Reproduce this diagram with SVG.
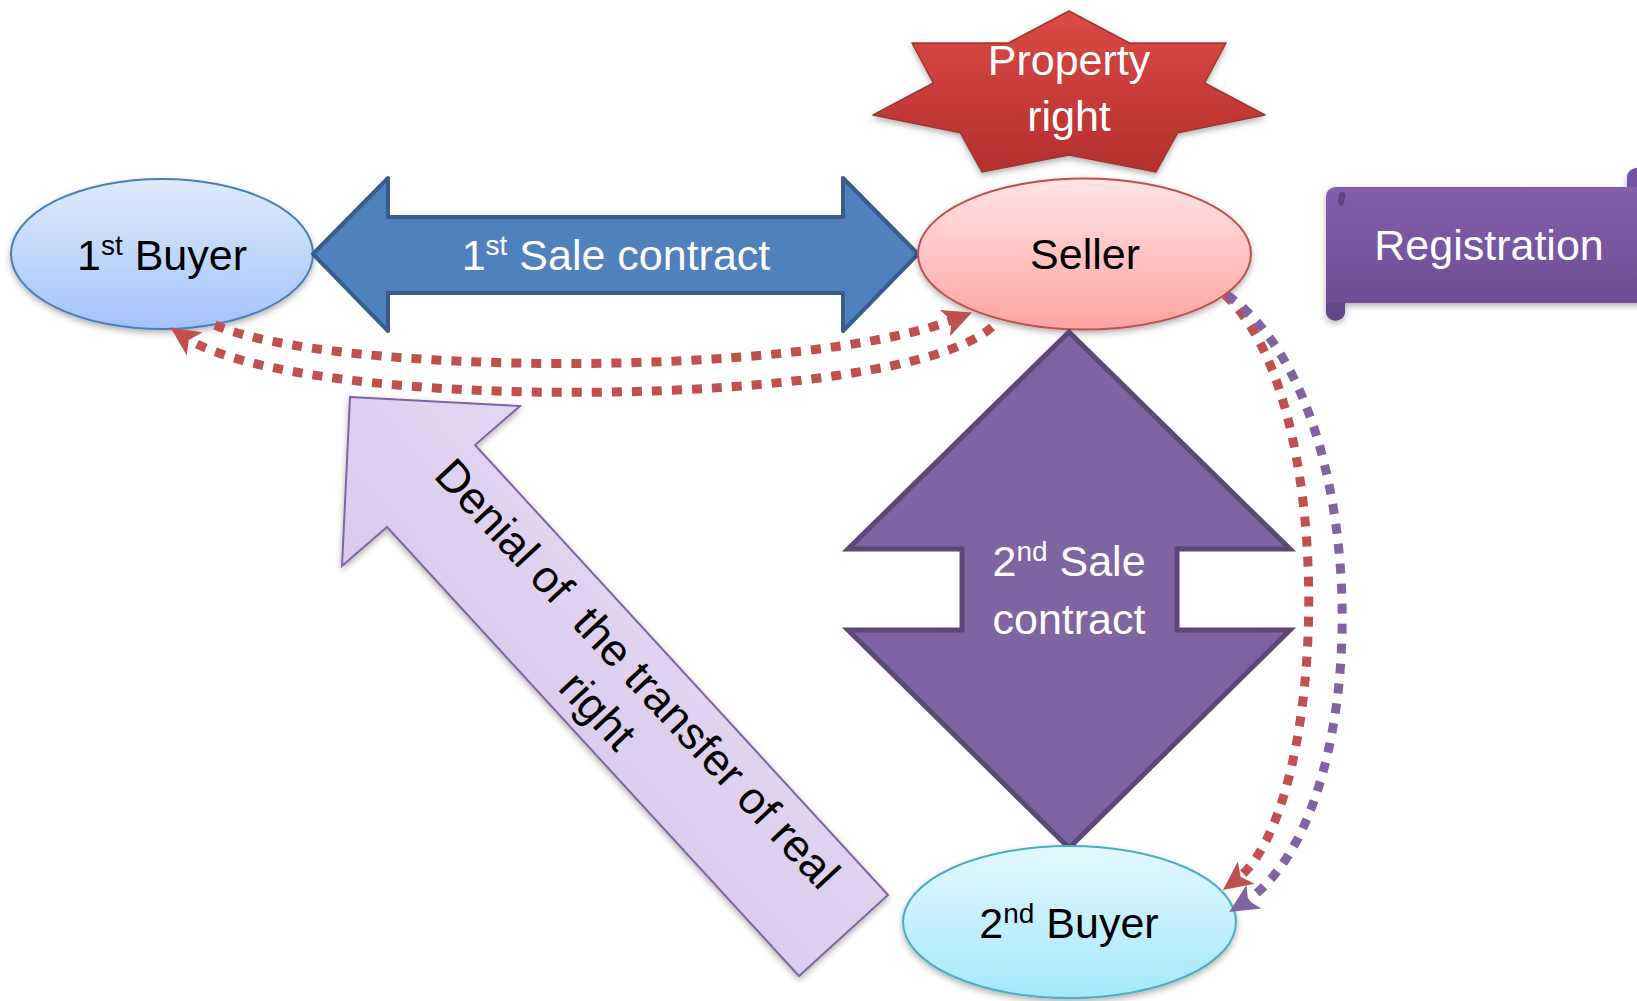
<svg xmlns="http://www.w3.org/2000/svg" width="1637" height="1001" viewBox="0 0 1637 1001">
<defs>
<style>
text{font-family:"Liberation Sans",Arial,sans-serif;font-size:43px;}
.dk{fill:#000;}
.wt{fill:#fff;}
.dot{fill:none;stroke-width:9;stroke-dasharray:10 10;}
.red{stroke:#c0504d;}
.pur{stroke:#8064a2;}
</style>
<linearGradient id="gB1" x1="0" y1="0" x2="0" y2="1"><stop offset="0" stop-color="#dfebfd"/><stop offset="1" stop-color="#a3c3fa"/></linearGradient>
<linearGradient id="gS" x1="0" y1="0" x2="0" y2="1"><stop offset="0" stop-color="#ffe4e4"/><stop offset="1" stop-color="#ffa4a2"/></linearGradient>
<linearGradient id="gB2" x1="0" y1="0" x2="0" y2="1"><stop offset="0" stop-color="#e2f9ff"/><stop offset="1" stop-color="#a5e7fb"/></linearGradient>
<linearGradient id="gStar" x1="0" y1="0" x2="0" y2="1"><stop offset="0" stop-color="#dc4a46"/><stop offset="1" stop-color="#b3302d"/></linearGradient>
<linearGradient id="gReg" x1="0" y1="0" x2="0" y2="1"><stop offset="0" stop-color="#8862b0"/><stop offset="1" stop-color="#6b4a90"/></linearGradient>
<linearGradient id="gDen" x1="1" y1="0" x2="0" y2="1"><stop offset="0" stop-color="#efe9f8"/><stop offset="0.5" stop-color="#ddd0ef"/><stop offset="1" stop-color="#cdbde7"/></linearGradient>
<filter id="sh" x="-10%" y="-10%" width="120%" height="130%"><feDropShadow dx="0" dy="3" stdDeviation="3" flood-color="#000" flood-opacity="0.3"/></filter>
<marker id="ahR" markerUnits="userSpaceOnUse" viewBox="-16 -16 32 32" markerWidth="32" markerHeight="32" refX="0" refY="0" orient="auto"><path d="M15,0 L-14,-14 L-7,0 L-14,14 Z" fill="#c0504d"/></marker>
<marker id="ahP" markerUnits="userSpaceOnUse" viewBox="-16 -16 32 32" markerWidth="32" markerHeight="32" refX="0" refY="0" orient="auto"><path d="M15,0 L-14,-14 L-7,0 L-14,14 Z" fill="#8064a2"/></marker>
</defs>
<rect width="1637" height="1001" fill="#fff"/>

<g id="denial-arrow">
<path d="M350,397 L520,406 L475,445 L888,895 L799,976 L387,527 L342,566 Z" fill="url(#gDen)" stroke="#8064a2" stroke-width="2" filter="url(#sh)"/>
<g transform="translate(621,689) rotate(47)">
<text class="dk" x="0" y="-7" text-anchor="middle" xml:space="preserve" style="font-size:45px">Denial of  the transfer of real</text>
<text class="dk" x="0" y="47" text-anchor="middle" style="font-size:45px">right</text>
</g>
</g>

<g id="buyer1">
<ellipse cx="162" cy="254" rx="151" ry="75" fill="url(#gB1)" stroke="#4a7ebb" stroke-width="2" filter="url(#sh)"/>
<text class="dk" x="162" y="270" text-anchor="middle">1<tspan dy="-15" style="font-size:28px">st</tspan><tspan dy="15"> Buyer</tspan></text>
</g>

<g id="sale1">
<path d="M313,254 L388,178 L388,217 L843,217 L843,178 L918,254 L843,331 L843,293 L388,293 L388,331 Z" fill="#4f81bd" stroke="#385d8a" stroke-width="4" stroke-linejoin="round"/>
<text class="wt" x="616" y="270" text-anchor="middle">1<tspan dy="-15" style="font-size:28px">st</tspan><tspan dy="15"> Sale contract</tspan></text>
</g>

<g id="seller">
<ellipse cx="1084.5" cy="254" rx="166.5" ry="75.5" fill="url(#gS)" stroke="#c0504d" stroke-width="2" filter="url(#sh)"/>
<text class="dk" x="1085" y="269" text-anchor="middle">Seller</text>
</g>

<g id="property-right">
<path d="M1069,11 L1129.4,43 L1226,43 L1204.6,83 L1265,115 L1177.8,132.7 L1156,172 L1069,155 L982,172 L960.2,132.7 L873,115 L933.4,83 L912,43 L1008.6,43 Z" fill="url(#gStar)" stroke="#9e3532" stroke-width="1.5" stroke-linejoin="round" filter="url(#sh)"/>
<text class="wt" x="1069" y="75" text-anchor="middle">Property</text>
<text class="wt" x="1069" y="131" text-anchor="middle">right</text>
</g>

<g id="registration">
<path d="M1335.6,187 L1627,187 L1627,177.6 A9.6,9.6 0 0 1 1646.2,177.6 L1660,177.6 L1660,303 L1345,303 L1345,312.4 A9.6,9.6 0 0 1 1326,312.4 L1326,196.6 A9.6,9.6 0 0 1 1335.6,187 Z" fill="url(#gReg)" filter="url(#sh)"/>
<path d="M1339,193 Q1346,190 1345,197 L1343,206 Q1338,207 1338,201 Z" fill="#5a3d7c" opacity="0.8"/>
<path d="M1326,303 L1345,303 L1345,312.4 A9.6,9.6 0 0 1 1326,312.4 Z" fill="#654689"/>
<path d="M1627,187 L1627,177.6 A9.6,9.6 0 0 1 1637,168.2 L1637,187 Z" fill="#7454a0"/>
<text class="wt" x="1489" y="260" text-anchor="middle">Registration</text>
</g>

<g id="sale2">
<path d="M1069,332 L1290,549 L1177,549 L1177,630 L1290,630 L1069,848 L848,630 L962,630 L962,549 L848,549 Z" fill="#8064a2" stroke="#5c4776" stroke-width="5" stroke-linejoin="miter"/>
<text class="wt" x="1069" y="576" text-anchor="middle">2<tspan dy="-15" style="font-size:28px">nd</tspan><tspan dy="15"> Sale</tspan></text>
<text class="wt" x="1069" y="634" text-anchor="middle">contract</text>
</g>

<g id="buyer2">
<ellipse cx="1069.5" cy="922" rx="166.5" ry="76" fill="url(#gB2)" stroke="#4bacc6" stroke-width="2" filter="url(#sh)"/>
<text class="dk" x="1069" y="938" text-anchor="middle">2<tspan dy="-15" style="font-size:28px">nd</tspan><tspan dy="15"> Buyer</tspan></text>
</g>

<g id="connectors">
<path class="dot red" d="M215,325 C330,375 800,380 958,318" marker-end="url(#ahR)"/>
<path class="dot red" d="M992,327 C900,410 300,415 183,336" marker-end="url(#ahR)"/>
<path class="dot red" d="M1225,295 C1340,400 1330,810 1235,881" marker-end="url(#ahR)"/>
<path class="dot pur" d="M1227,295 C1378,400 1378,820 1242,904" marker-end="url(#ahP)"/>
</g>
</svg>
